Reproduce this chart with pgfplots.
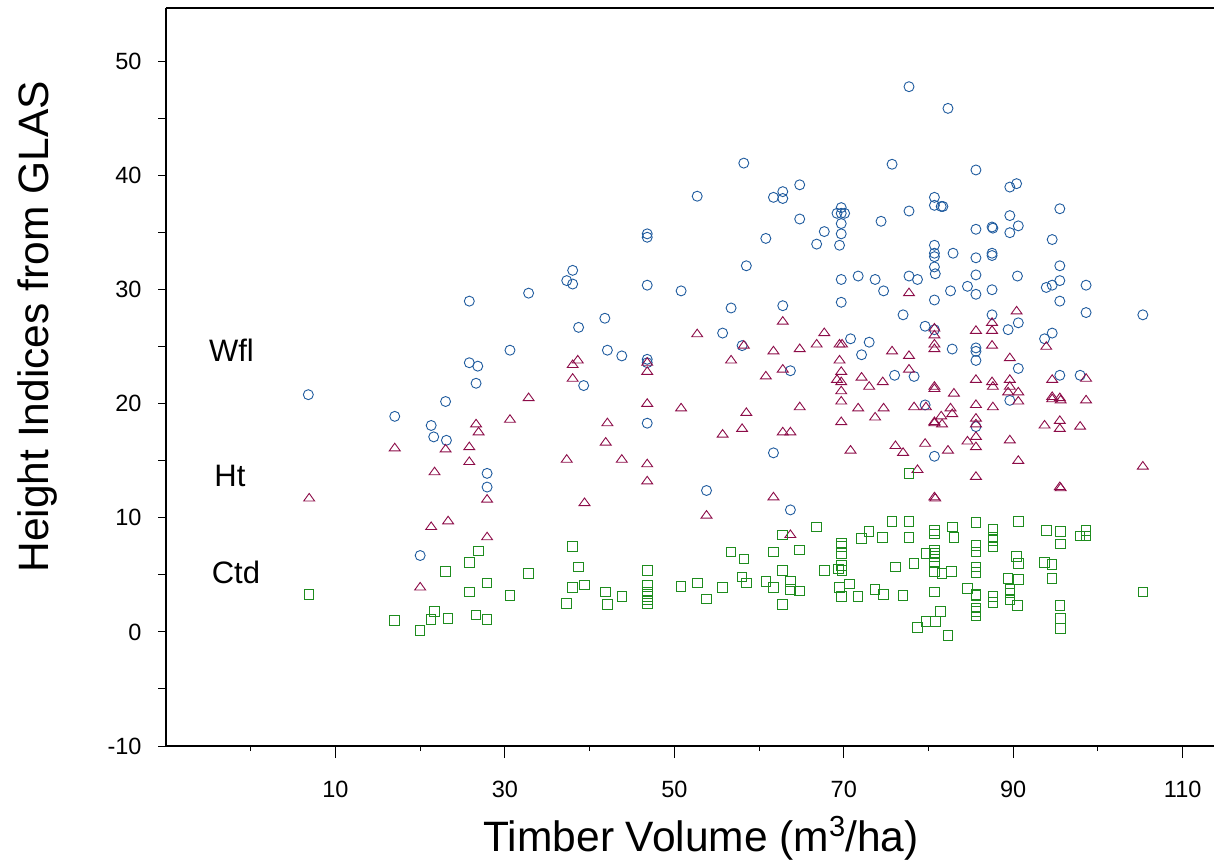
\documentclass[border=0pt]{standalone}
\usepackage{pgfplots}
\pgfplotsset{compat=1.18}
\usepackage{fontspec}
\setmainfont{Liberation Sans}
\usetikzlibrary{calc}
\definecolor{cblue}{RGB}{31,91,158}
\definecolor{cred}{RGB}{140,12,72}
\definecolor{cgreen}{RGB}{30,140,30}
\begin{document}
\begin{tikzpicture}
\begin{axis}[name=ax, scale only axis, width=1048bp, height=738bp,
  xmin=-10, xmax=113.7, ymin=-10, ymax=54.7,
  clip=false,
  axis x line*=bottom, axis y line*=left,
  axis line style={line width=1.2bp, -},
  tick align=outside, major tick length=12bp, minor tick length=5bp,
  every tick/.style={black, line width=1bp},
  xtick={10,30,...,110}, minor xtick={0,20,...,100},
  ytick={-10,0,...,50}, ytick style={draw=none},
  /pgf/number format/assume math mode=true,
  ticklabel style={font=\fontsize{23.5bp}{28bp}\selectfont},
  xticklabel style={yshift=-20bp},
  yticklabel style={xshift=-9bp},
  xlabel={Timber Volume (m\raisebox{0.36em}{\fontsize{29bp}{30bp}\selectfont 3}/ha)},
  ylabel={Height Indices from GLAS},
  label style={font=\fontsize{42.5bp}{50bp}\selectfont},
  xlabel style={at={(axis description cs:0.5105,-0.1247)}, anchor=center},
  ylabel style={at={(axis description cs:-0.123,0.568)}, anchor=center},
]
\draw[line width=1.2bp] (rel axis cs:0,1) -- (rel axis cs:1,1);
\pgfplotsinvokeforeach{-10,-5,...,50}{\draw[line width=1bp] (axis cs:-10,#1) -- ([xshift=-8bp]axis cs:-10,#1);}

\addplot[only marks, mark=o, mark size=5bp, draw=cblue, mark options={line width=0.9bp, draw=cblue}] coordinates {
(6.8,20.8) (17.0,18.9) (21.3,18.1) (21.6,17.1) (23.1,16.8) (23.0,20.2) (25.8,29.0) (25.8,23.6) (26.8,23.3) (26.6,21.8) (27.9,13.9) (27.9,12.7) (20.0,6.7) (30.6,24.7) (32.8,29.7) (37.3,30.8) (38.0,31.7) (38.0,30.5) (38.7,26.7) (39.3,21.6) (41.8,27.5) (42.1,24.7) (43.8,24.2) (46.8,34.9) (46.8,34.6) (46.8,30.4) (46.8,23.9) (46.8,23.6) (46.8,18.3) (50.8,29.9) (52.7,38.2) (53.8,12.4) (56.7,28.4) (55.7,26.2) (58.2,41.1) (58.0,25.1) (58.5,32.1) (60.8,34.5) (61.7,38.1) (62.8,38.6) (62.8,38.0) (64.8,39.2) (64.8,36.2) (62.8,28.6) (63.7,22.9) (61.7,15.7) (63.7,10.7)
(77.7,47.8) (82.3,45.9) (75.7,41.0) (85.6,40.5) (80.7,38.1) (80.7,37.4) (81.5,37.3) (81.7,37.3) (77.7,36.9) (69.7,37.2) (69.2,36.7) (69.7,36.7) (70.1,36.7) (69.7,35.8) (69.7,34.9) (69.5,33.9) (67.7,35.1) (66.8,34.0) (74.4,36.0) (85.6,35.3) (87.5,35.5) (87.6,35.4) (80.7,33.9) (80.7,33.2) (80.7,32.9) (80.7,32.0) (80.8,31.4) (82.9,33.2) (85.6,32.8) (87.5,33.2) (87.5,33.0) (69.7,30.9) (71.7,31.2) (73.7,30.9) (74.7,29.9) (77.7,31.2) (78.7,30.9) (82.6,29.9) (84.6,30.3) (85.6,31.3) (85.6,29.6) (87.5,30.0) (69.7,28.9) (80.7,29.1) (77.0,27.8) (87.5,27.8) (79.6,26.8) (80.7,26.5) (70.8,25.7) (73.0,25.4) (72.1,24.3) (82.8,24.8) (85.6,24.9) (85.6,24.6) (85.6,23.8) (76.0,22.5) (78.3,22.4) (79.6,19.9) (85.6,18.0) (80.7,15.4)
(89.6,39.0) (90.4,39.3) (95.5,37.1) (89.6,36.5) (90.6,35.6) (89.6,35.0) (94.6,34.4) (95.5,32.1) (90.5,31.2) (95.5,30.8) (93.9,30.2) (94.6,30.4) (98.6,30.4) (95.5,29.0) (98.6,28.0) (105.3,27.8) (90.6,27.1) (89.4,26.5) (94.6,26.2) (93.7,25.7) (90.6,23.1) (95.5,22.5) (97.9,22.5) (89.6,20.3)
};

\addplot[only marks, mark=triangle, mark size=6.3bp, draw=cred, mark options={line width=0.9bp, draw=cred, yscale=0.8}] coordinates {
(6.9,11.7) (17.0,16.1) (21.7,14.0) (21.3,9.2) (23.3,9.7) (20.0,3.9) (23.0,16.0) (25.8,16.2) (25.8,14.9) (26.6,18.2) (26.9,17.5) (27.9,11.6) (27.9,8.3) (30.6,18.6) (32.8,20.5) (37.3,15.1) (38.0,23.4) (38.6,23.8) (38.0,22.2) (46.8,23.6) (46.8,22.8) (46.8,20.0) (42.1,18.3) (41.9,16.6) (43.8,15.1) (46.8,14.7) (46.8,13.2) (39.4,11.3) (52.7,26.1) (50.8,19.6) (53.8,10.2) (58.5,19.2) (58.0,17.8) (55.7,17.3) (56.7,23.8) (58.2,25.1) (62.8,27.2) (61.7,24.6) (64.8,24.8) (60.8,22.4) (62.8,23.0) (64.8,19.7) (62.8,17.5) (63.7,17.5) (61.7,11.8) (63.7,8.5)
(77.7,29.7) (67.7,26.2) (66.8,25.2) (69.5,25.2) (69.8,25.2) (69.5,23.8) (69.7,22.8) (69.2,22.1) (69.7,21.9) (72.1,22.3) (73.0,21.5) (74.6,21.9) (75.7,24.6) (77.7,24.2) (77.7,23.0) (80.7,26.6) (80.7,26.0) (80.7,25.2) (80.7,24.8) (85.6,26.4) (87.5,27.1) (87.5,26.4) (87.5,25.1) (85.6,22.1) (87.5,21.9) (80.7,21.5)
(69.7,21.1) (69.7,20.2) (71.7,19.6) (74.7,19.6) (73.7,18.8) (69.7,18.4) (70.8,15.9) (80.7,21.3) (83.0,20.9) (78.3,19.7) (79.7,19.7) (82.6,19.6) (81.5,18.9) (82.8,19.1) (80.7,18.4) (80.7,18.3) (81.6,18.2) (87.6,21.5) (85.6,19.9) (87.6,19.7) (85.6,18.7) (85.6,18.2) (85.6,17.1) (85.6,16.2) (84.6,16.7) (79.6,16.5) (76.1,16.3) (77.0,15.7) (82.3,15.9) (78.7,14.2) (85.6,13.6) (80.7,11.8) (80.8,11.7)
(90.4,28.1) (93.9,25.0) (89.6,24.0) (89.6,22.1) (89.6,21.5) (94.6,22.1) (98.6,22.2) (89.4,21.0) (90.6,21.0) (94.6,20.6) (95.5,20.5) (90.6,20.2) (94.6,20.4) (95.6,20.3) (98.6,20.3) (93.7,18.1) (95.5,18.5) (95.5,17.8) (97.9,18.0) (89.6,16.8) (90.6,15.0) (105.3,14.5) (95.5,12.7) (95.6,12.6)
};

\addplot[only marks, mark=square, mark size=4.8bp, draw=cgreen, mark options={line width=1bp, draw=cgreen}] coordinates {
(6.9,3.3) (17.0,1.0) (20.0,0.1) (21.3,1.1) (21.7,1.8) (23.3,1.2) (23.0,5.3) (25.8,6.1) (26.9,7.1) (25.8,3.5) (27.9,4.3) (26.6,1.5) (27.9,1.1) (30.6,3.2) (32.8,5.1) (38.0,7.5) (37.3,2.5) (38.0,3.9) (38.7,5.7) (39.4,4.1) (41.9,3.5) (42.1,2.4) (43.8,3.1) (46.8,5.4) (46.8,4.1) (46.8,3.5) (46.8,3.1) (46.8,2.8) (46.8,2.5) (50.8,4.0) (52.7,4.3) (53.8,2.9) (55.7,3.9) (56.7,7.0) (58.2,6.4) (58.0,4.8) (58.5,4.3) (60.8,4.4) (61.7,7.0) (61.7,3.9) (62.8,8.5) (62.8,5.4) (62.8,2.4) (63.7,4.4) (63.7,3.7) (64.8,7.2) (64.8,3.6)
(66.8,9.2) (69.7,7.8) (69.7,7.5) (69.7,6.9) (69.4,5.5) (69.8,5.4) (67.7,5.4) (69.7,5.8) (70.7,4.2) (69.5,3.9) (69.7,3.1) (71.7,3.1) (72.1,8.2) (73.0,8.8) (74.6,8.3) (75.7,9.7) (77.7,9.7) (77.7,8.3) (77.7,13.9) (76.1,5.7) (73.7,3.7) (74.7,3.3) (77.0,3.2) (78.3,6.0) (79.7,6.9) (80.7,8.9) (80.7,8.6) (80.7,7.2) (80.7,6.9) (80.7,6.6) (80.7,6.1) (80.7,5.3) (81.6,5.1) (82.7,5.3) (80.7,3.5) (82.8,9.2) (83.0,8.3) (81.4,1.8) (79.7,0.9) (80.8,0.9) (78.7,0.4) (82.3,-0.3) (85.6,9.6) (85.6,7.6) (85.6,7.0) (85.6,5.7) (85.6,5.2) (84.6,3.8) (85.6,3.3) (85.6,3.2) (85.6,2.1) (85.6,1.8) (85.6,1.4) (87.6,9.0) (87.6,8.3) (87.6,8.0) (87.6,7.5) (87.6,3.1) (87.6,2.6)
(90.6,9.7) (93.9,8.9) (95.6,8.8) (95.6,7.7) (98.6,8.9) (97.9,8.4) (98.6,8.4) (90.4,6.6) (90.6,6.0) (93.7,6.1) (94.6,5.9) (94.6,4.7) (89.4,4.7) (90.6,4.6) (89.6,3.7) (89.6,3.4) (89.6,2.8) (90.5,2.3) (95.5,2.3) (95.6,1.2) (95.6,0.3) (105.3,3.5)
};

\node[font=\fontsize{31bp}{36bp}\selectfont, anchor=center] at (axis cs:-2.27,24.7) {Wfl};
\node[font=\fontsize{31bp}{36bp}\selectfont, anchor=center] at (axis cs:-2.45,13.7) {Ht};
\node[font=\fontsize{31bp}{36bp}\selectfont, anchor=center] at (axis cs:-1.74,5.2) {Ctd};
\end{axis}
\pgfresetboundingbox
\path[use as bounding box] ($(ax.south west)+(-166bp,-121bp)$) rectangle ($(ax.north east)+(0bp,8bp)$);
\end{tikzpicture}
\end{document}
